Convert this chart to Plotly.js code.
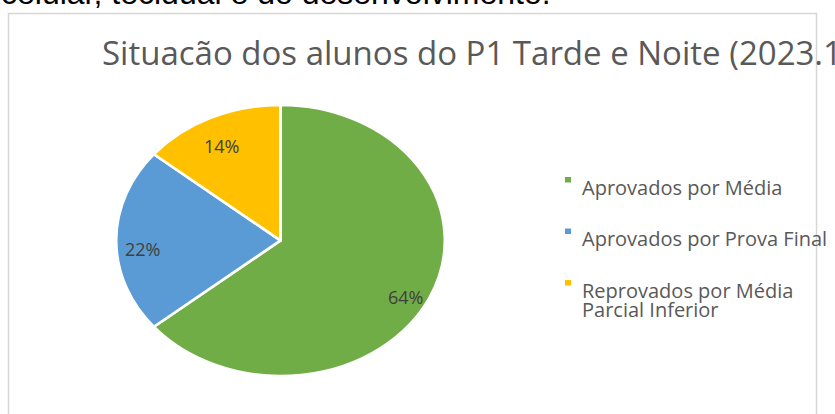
<!DOCTYPE html>
<html><head><meta charset="utf-8">
<script src="https://cdn.plot.ly/plotly-3.0.1.min.js"></script>
<style>html,body{margin:0;padding:0;background:#fff;overflow:hidden}</style>
</head><body><div id="chart" style="width:835px;height:414px"></div>
<script>
// ---- data ----
const pageText = "celular, tecidual e do desenvolvimento.";
const chartTitle = "Situacão dos alunos do P1 Tarde e Noite (2023.1";
const categories = ["Aprovados por Média", "Aprovados por Prova Final", "Reprovados por Média Parcial Inferior"];
const legendLines = [["Aprovados por Média"], ["Aprovados por Prova Final"], ["Reprovados por Média", "Parcial Inferior"]];
const values = [64, 22, 14];
const colors = ["#70AD47", "#5B9BD5", "#FFC000"];

// ---- layout constants ----
const W = 835, H = 414;
const CX = 280.5, CY = 240.5, RY = 135.5, RX = 164.5;
const SX = RX / RY;
const LABEL_R = 0.84, LABEL_DY = 8;
const domain = {x: [(CX - RY) / W, (CX + RY) / W], y: [(H - CY - RY) / H, (H - CY + RY) / H]};
const FONT = "'Open Sans', Lato, sans-serif";

const annotations = [];
const shapes = [];

// page text above chart
annotations.push({text: pageText, xref: 'paper', yref: 'paper', x: -0.001, xanchor: 'left',
  y: 1 + 6.5 / H, yanchor: 'middle', showarrow: false,
  font: {family: "'Liberation Sans', Arial, sans-serif", size: 32, color: '#000'}});

// chart border
shapes.push({type: 'rect', xref: 'paper', yref: 'paper', x0: 8.5 / W, x1: 816.5 / W, y0: -0.2, y1: 1 - 13.5 / H,
  line: {color: '#D6D6D6', width: 1.5}, fillcolor: 'rgba(0,0,0,0)', layer: 'below'});

// percentage labels (angles from data)
const total = values.reduce((a, b) => a + b, 0);
let cum = 0;
values.forEach((v, i) => {
  const mid = (cum + v / 2) / total * 2 * Math.PI;
  cum += v;
  const px = CX + SX * RY * LABEL_R * Math.sin(mid);
  const py = CY - RY * LABEL_R * Math.cos(mid) + LABEL_DY;
  annotations.push({text: Math.round(v / total * 100) + '%', xref: 'paper', yref: 'paper',
    x: px / W, y: 1 - py / H, xanchor: 'center', yanchor: 'middle', showarrow: false,
    font: {family: FONT, size: 18, color: '#404040'}});
});

// legend
const LEG_X = 580, LEG_Y0 = 193.5, LEG_GAP = 51.5, LINE_GAP = 19.5;
legendLines.forEach((lines, i) => {
  const base = LEG_Y0 + i * LEG_GAP;
  shapes.push({type: 'rect', xref: 'paper', yref: 'paper', x0: 565 / W, x1: 571 / W,
    y0: 1 - (base - 11) / H, y1: 1 - (base - 16.5) / H, fillcolor: colors[i], line: {width: 0}});
  lines.forEach((ln, j) => {
    annotations.push({text: ln, xref: 'paper', yref: 'paper', x: LEG_X / W, xanchor: 'left',
      y: 1 - (base + j * LINE_GAP - 6.5) / H, yanchor: 'middle', showarrow: false,
      font: {family: FONT, size: 20, color: '#595959'}});
  });
});

const trace = {
  type: 'pie', labels: categories, values: values, sort: false, direction: 'clockwise', rotation: 0,
  marker: {colors: colors, line: {color: '#fff', width: 2.5}},
  textinfo: 'none', hoverinfo: 'skip', domain: domain, showlegend: false
};

const layout = {
  width: W, height: H, margin: {l: 0, r: 0, t: 0, b: 0},
  paper_bgcolor: '#fff', plot_bgcolor: '#fff', showlegend: false,
  title: {text: chartTitle, x: 102 / W, xanchor: 'left', xref: 'container',
    y: 1 - 53.5 / H, yref: 'container', yanchor: 'middle',
    font: {family: FONT, size: 33, color: '#595959'}},
  annotations: annotations, shapes: shapes
};

Plotly.newPlot('chart', [trace], layout, {displayModeBar: false, staticPlot: true}).then(gd => {
  const g = gd.querySelector('.pielayer .trace');
  if (g) g.setAttribute('transform', `translate(${CX},0) scale(${SX},1) translate(${-CX},0)`);
});
</script>
</body></html>
